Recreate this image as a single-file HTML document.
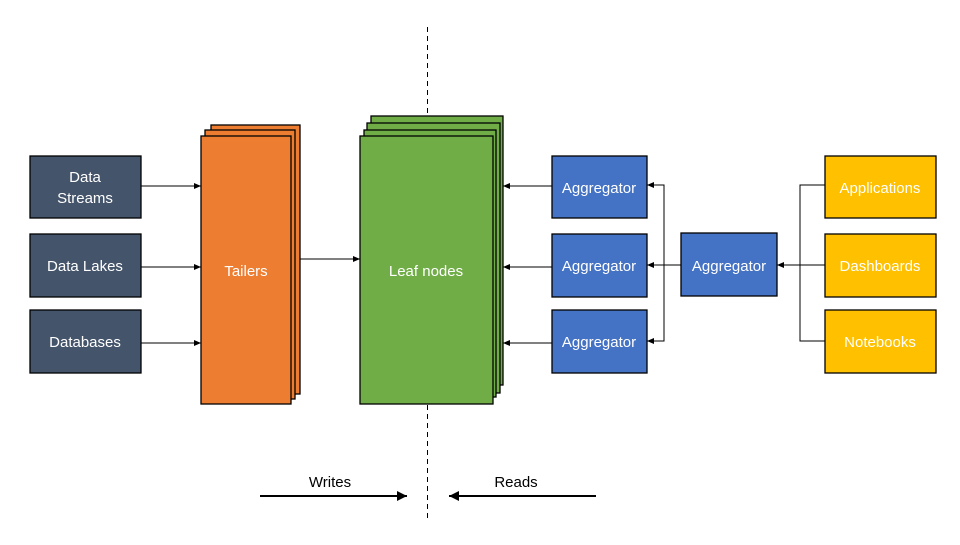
<!DOCTYPE html>
<html><head><meta charset="utf-8"><style>body{margin:0;background:#fff}</style></head><body>
<svg width="960" height="540" viewBox="0 0 960 540" xmlns="http://www.w3.org/2000/svg" font-family="'Liberation Sans', sans-serif">
<defs>
<marker id="a" markerWidth="8" markerHeight="8" refX="7" refY="4" orient="auto" markerUnits="userSpaceOnUse"><path d="M0,1 L7,4 L0,7 z" fill="#000"/></marker>
<marker id="b" markerWidth="12" markerHeight="12" refX="10" refY="5" orient="auto" markerUnits="userSpaceOnUse"><path d="M0,0 L10,5 L0,10 z" fill="#000"/></marker>
</defs>
<line x1="427.5" y1="27" x2="427.5" y2="518" stroke="#000" stroke-dasharray="5,4" stroke-width="1"/>
<g stroke="#000" stroke-width="1.3">
<rect x="211" y="125" width="89" height="269" fill="#ED7D31"/>
<rect x="205" y="130" width="90" height="269" fill="#ED7D31"/>
<rect x="201" y="136" width="90" height="268" fill="#ED7D31"/>
<rect x="371" y="116" width="132" height="269" fill="#70AD47"/>
<rect x="367" y="123" width="133" height="270" fill="#70AD47"/>
<rect x="364" y="130" width="132" height="267" fill="#70AD47"/>
<rect x="360" y="136" width="133" height="268" fill="#70AD47"/>
<rect x="30" y="156" width="111" height="62" fill="#44546A"/>
<rect x="30" y="234" width="111" height="63" fill="#44546A"/>
<rect x="30" y="310" width="111" height="63" fill="#44546A"/>
<rect x="552" y="156" width="95" height="62" fill="#4472C4"/>
<rect x="552" y="234" width="95" height="63" fill="#4472C4"/>
<rect x="552" y="310" width="95" height="63" fill="#4472C4"/>
<rect x="681" y="233" width="96" height="63" fill="#4472C4"/>
<rect x="825" y="156" width="111" height="62" fill="#FFC000"/>
<rect x="825" y="234" width="111" height="63" fill="#FFC000"/>
<rect x="825" y="310" width="111" height="63" fill="#FFC000"/>
</g>
<g stroke="#000" stroke-width="1" fill="none">
<line x1="141" y1="186" x2="201" y2="186" marker-end="url(#a)"/>
<line x1="141" y1="267" x2="201" y2="267" marker-end="url(#a)"/>
<line x1="141" y1="343" x2="201" y2="343" marker-end="url(#a)"/>
<line x1="300" y1="259" x2="360" y2="259" marker-end="url(#a)"/>
<line x1="552" y1="186" x2="503" y2="186" marker-end="url(#a)"/>
<line x1="552" y1="267" x2="503" y2="267" marker-end="url(#a)"/>
<line x1="552" y1="343" x2="503" y2="343" marker-end="url(#a)"/>
<line x1="681" y1="265" x2="647" y2="265" marker-end="url(#a)"/>
<polyline points="664,265 664,185 647,185" marker-end="url(#a)"/>
<polyline points="664,265 664,341 647,341" marker-end="url(#a)"/>
<polyline points="825,185 800,185 800,341 825,341"/>
<line x1="825" y1="265" x2="777" y2="265" marker-end="url(#a)"/>
<line x1="260" y1="496" x2="407" y2="496" stroke-width="2" marker-end="url(#b)"/>
<line x1="596" y1="496" x2="449" y2="496" stroke-width="2" marker-end="url(#b)"/>
</g>
<g fill="#fff" font-size="15" text-anchor="middle">
<text x="85" y="182">Data</text><text x="85" y="203">Streams</text>
<text x="85" y="271">Data Lakes</text>
<text x="85" y="347">Databases</text>
<text x="246" y="276">Tailers</text>
<text x="426" y="276">Leaf nodes</text>
<text x="599" y="193">Aggregator</text>
<text x="599" y="271">Aggregator</text>
<text x="599" y="347">Aggregator</text>
<text x="729" y="271">Aggregator</text>
<text x="880" y="193">Applications</text>
<text x="880" y="271">Dashboards</text>
<text x="880" y="347">Notebooks</text>
</g>
<g fill="#000" font-size="15" text-anchor="middle">
<text x="330" y="487">Writes</text>
<text x="516" y="487">Reads</text>
</g>
</svg>
</body></html>
